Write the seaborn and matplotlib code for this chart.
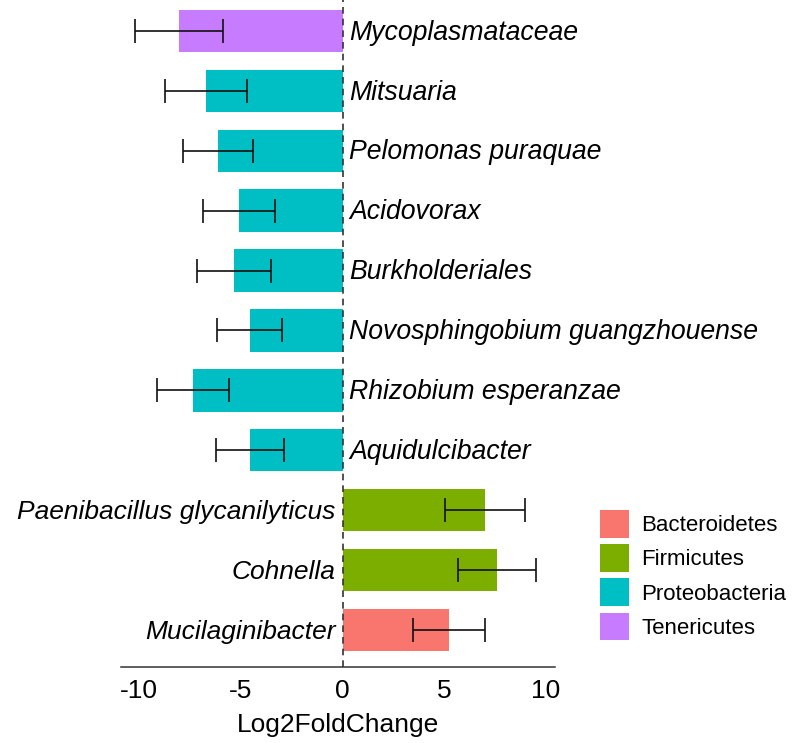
import pandas as pd
import matplotlib
matplotlib.use("Agg")
import matplotlib.pyplot as plt
import seaborn as sns
from matplotlib.patches import Patch

# =========================
# DATA
# =========================
taxa = [
    "Mycoplasmataceae", "Mitsuaria", "Pelomonas puraquae", "Acidovorax",
    "Burkholderiales", "Novosphingobium guangzhouense", "Rhizobium esperanzae",
    "Aquidulcibacter", "Paenibacillus glycanilyticus", "Cohnella", "Mucilaginibacter",
]
log2fc = [-8.05, -6.72, -6.13, -5.10, -5.35, -4.56, -7.36, -4.56, 6.99, 7.59, 5.23]
lfc_se = [2.15, 2.00, 1.70, 1.78, 1.81, 1.60, 1.79, 1.69, 1.97, 1.92, 1.78]
phylum = [
    "Tenericutes", "Proteobacteria", "Proteobacteria", "Proteobacteria",
    "Proteobacteria", "Proteobacteria", "Proteobacteria", "Proteobacteria",
    "Firmicutes", "Firmicutes", "Bacteroidetes",
]
phyla = ["Bacteroidetes", "Firmicutes", "Proteobacteria", "Tenericutes"]
colors = ["#F8766D", "#7CAE00", "#00BFC4", "#C77CFF"]
xticks = [-10, -5, 0, 5, 10]

df = pd.DataFrame({"taxon": taxa, "lfc": log2fc, "se": lfc_se, "phylum": phylum})

# =========================
# PLOT
# =========================
sns.set_style("white")
plt.rcParams["font.family"] = ["Liberation Sans", "DejaVu Sans"]
plt.rcParams["text.color"] = "black"
plt.rcParams["xtick.color"] = "black"

fig = plt.figure(figsize=(7.93, 7.43), dpi=100)
ax = fig.add_axes([121 / 793, 76 / 743, 434 / 793, 667 / 743])

palette = dict(zip(phyla, colors))
sns.barplot(
    data=df, x="lfc", y="taxon", hue="phylum", order=taxa,
    palette=palette, dodge=False, width=0.71, legend=False,
    errorbar=None, ax=ax, saturation=1, linewidth=0,
)

ypos = range(len(taxa))
ax.errorbar(df["lfc"], list(ypos), xerr=df["se"], fmt="none",
            ecolor="#111111", elinewidth=1.2, capsize=8.5, capthick=1.2, zorder=5)

ax.axvline(0, color="#333333", linestyle=(0, (4, 3)), linewidth=1.2, zorder=6)

# taxon labels beside the zero line
for i, (name, v) in enumerate(zip(taxa, log2fc)):
    if v < 0:
        ax.annotate(name, (0, i), xytext=(4.5, -1.2), textcoords="offset points",
                    ha="left", va="center", fontsize=19.2, style="italic", color="black")
    else:
        ax.annotate(name, (0, i), xytext=(-5, -1.2), textcoords="offset points",
                    ha="right", va="center", fontsize=19.0, style="italic", color="black")

ax.set_xlim(-10.9, 10.44)
ax.set_ylim(10.62, -0.518)
ax.set_xticks(xticks)
ax.set_xticklabels([str(t) for t in xticks], fontsize=19)
ax.set_yticks([])
ax.set_ylabel("")
ax.set_xlabel("Log2FoldChange", fontsize=19, labelpad=7, color="black")
ax.tick_params(axis="x", length=4, width=1.1, color="#333333", pad=4.5,
               direction="out", labelcolor="black")

for s in ["top", "right", "left"]:
    ax.spines[s].set_visible(False)
ax.spines["bottom"].set_color("#333333")
ax.spines["bottom"].set_linewidth(1.1)

handles = [Patch(facecolor=c, edgecolor="none") for c in colors]
fig.legend(handles, phyla, loc="upper left", bbox_to_anchor=(600 / 793, 1 - 510 / 743),
           frameon=False, fontsize=16, handlelength=1.32, handleheight=1.53,
           handletextpad=0.55, labelspacing=0.3, borderpad=0, borderaxespad=0,
           labelcolor="black")

plt.savefig("out.png", dpi=100)
